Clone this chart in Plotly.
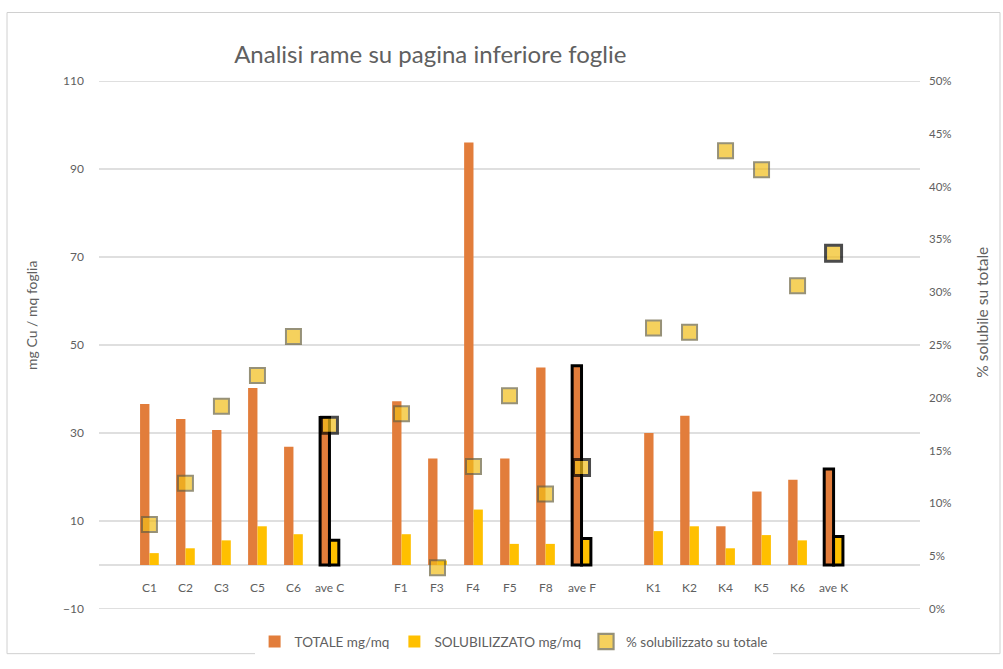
import plotly.graph_objects as go

# Categories (blank spacers separate the three groups)
categories = ["C1", "C2", "C3", "C5", "C6", "ave C", "\u200b",
              "F1", "F3", "F4", "F5", "F8", "ave F", "\u200b\u200b",
              "K1", "K2", "K4", "K5", "K6", "ave K", "\u200b\u200b\u200b"]

# Total copper, mg/mq
totale = [36.6, 33.2, 30.7, 40.2, 26.9, 33.5, None,
          37.2, 24.2, 96.0, 24.2, 44.9, 45.3, None,
          30.0, 33.9, 8.8, 16.7, 19.4, 21.8, None]

# Solubilised copper, mg/mq
solubilizzato = [2.7, 3.8, 5.6, 8.8, 7.0, 5.6, None,
                 7.0, 1.0, 12.6, 4.8, 4.8, 6.0, None,
                 7.7, 8.8, 3.8, 6.8, 5.6, 6.5, None]

# Share solubilised over total
perc_solubile = [0.080, 0.119, 0.192, 0.221, 0.258, 0.174, None,
                 0.185, 0.039, 0.135, 0.202, 0.109, 0.134, None,
                 0.266, 0.262, 0.434, 0.416, 0.306, 0.337, None]

# Left axis scale
Y_MIN, Y_MAX, Y_STEP = -10, 110, 20

ORANGE = "#E27D3B"
GOLD = "#FFC000"
GREY_TXT = "#606060"
GRID = "#D4D4D4"
FONT = "Lato, Liberation Sans, sans-serif"

is_avg = [c.startswith("ave") for c in categories]
edge_w = [3 if a else 0 for a in is_avg]
edge_c = ["#000000" if a else "rgba(0,0,0,0)" for a in is_avg]

fig = go.Figure()

fig.add_trace(go.Bar(
    x=categories, y=totale, name="TOTALE mg/mq",
    marker=dict(color=ORANGE, line=dict(width=edge_w, color=edge_c)),
    yaxis="y",
))
fig.add_trace(go.Bar(
    x=categories, y=solubilizzato, name="SOLUBILIZZATO mg/mq",
    marker=dict(color=GOLD, line=dict(width=edge_w, color=edge_c)),
    yaxis="y",
))
fig.add_trace(go.Scatter(
    x=categories, y=perc_solubile, name="% solubilizzato su totale",
    mode="markers", yaxis="y2",
    marker=dict(symbol="square", size=[16 if a else 15 for a in is_avg],
                color="#F2BE1A",
                line=dict(width=[3 if a else 2 for a in is_avg],
                          color=["#000000" if a else "#6B6340" for a in is_avg])),
))

# Category names sit just under the value-0 baseline
for cat in categories:
    if cat.strip("\u200b"):
        fig.add_annotation(x=cat, y=0, xref="x", yref="y", text=cat,
                           showarrow=False, yanchor="top", yshift=-13,
                           font=dict(size=12, color=GREY_TXT, family=FONT))

# Axis titles, placed a little above the vertical centre of the plot
fig.add_annotation(text="mg Cu / mq foglia", xref="paper", yref="paper",
                   x=-0.0816, y=0.555, textangle=-90, showarrow=False,
                   xanchor="center", yanchor="middle",
                   font=dict(size=14, color=GREY_TXT, family=FONT))
fig.add_annotation(text="% solubile su totale", xref="paper", yref="paper",
                   x=1.0755, y=0.563, textangle=-90, showarrow=False,
                   xanchor="center", yanchor="middle",
                   font=dict(size=15.5, color=GREY_TXT, family=FONT))

# Horizontal grid at every major tick of the left axis, plus the 0 baseline
grid_values = list(range(Y_MIN, Y_MAX + 1, Y_STEP)) + [0]
shapes = [dict(type="line", xref="paper", yref="y", x0=0, x1=1, y0=v, y1=v,
               line=dict(color=GRID, width=1.3), layer="between")
          for v in grid_values]
shapes.append(dict(type="rect", xref="paper", yref="paper",
                   x0=-92 / 821, x1=1.0 + 80 / 821,
                   y0=-45 / 532, y1=1.0 + 69 / 532,
                   line=dict(color="#D0D0D0", width=1),
                   fillcolor="rgba(0,0,0,0)", layer="above"))

fig.update_layout(
    width=1003, height=669,
    margin=dict(l=99, r=83, t=81, b=57),
    paper_bgcolor="white", plot_bgcolor="white",
    font=dict(family=FONT, color=GREY_TXT, size=12),
    barmode="group", bargap=0.48, bargroupgap=0.0,
    title=dict(text="Analisi rame su pagina inferiore foglie",
               x=0.429, xanchor="center", y=0.918, yanchor="middle",
               font=dict(family=FONT, size=24, color=GREY_TXT)),
    xaxis=dict(
        type="category", categoryorder="array", categoryarray=categories,
        showticklabels=False, showline=False, showgrid=False, ticks="",
        zeroline=False,
    ),
    yaxis=dict(
        range=[Y_MIN, Y_MAX], tick0=Y_MIN, dtick=Y_STEP,
        showgrid=False, zeroline=False,
        showline=False, ticks="", ticklabelstandoff=14,
        tickfont=dict(size=12, color=GREY_TXT),
    ),
    yaxis2=dict(
        overlaying="y", side="right",
        range=[0, 0.5], tick0=0, dtick=0.05, tickformat=".0%",
        showgrid=False, zeroline=False, showline=False, ticks="",
        ticklabelstandoff=8,
        tickfont=dict(size=11.5, color=GREY_TXT),
    ),
    legend=dict(orientation="h", x=0.505, xanchor="center",
                y=-0.062, yanchor="middle",
                font=dict(size=13.5, color=GREY_TXT),
                itemwidth=30, traceorder="normal"),
    shapes=shapes,
)

fig.write_html("out.html")
